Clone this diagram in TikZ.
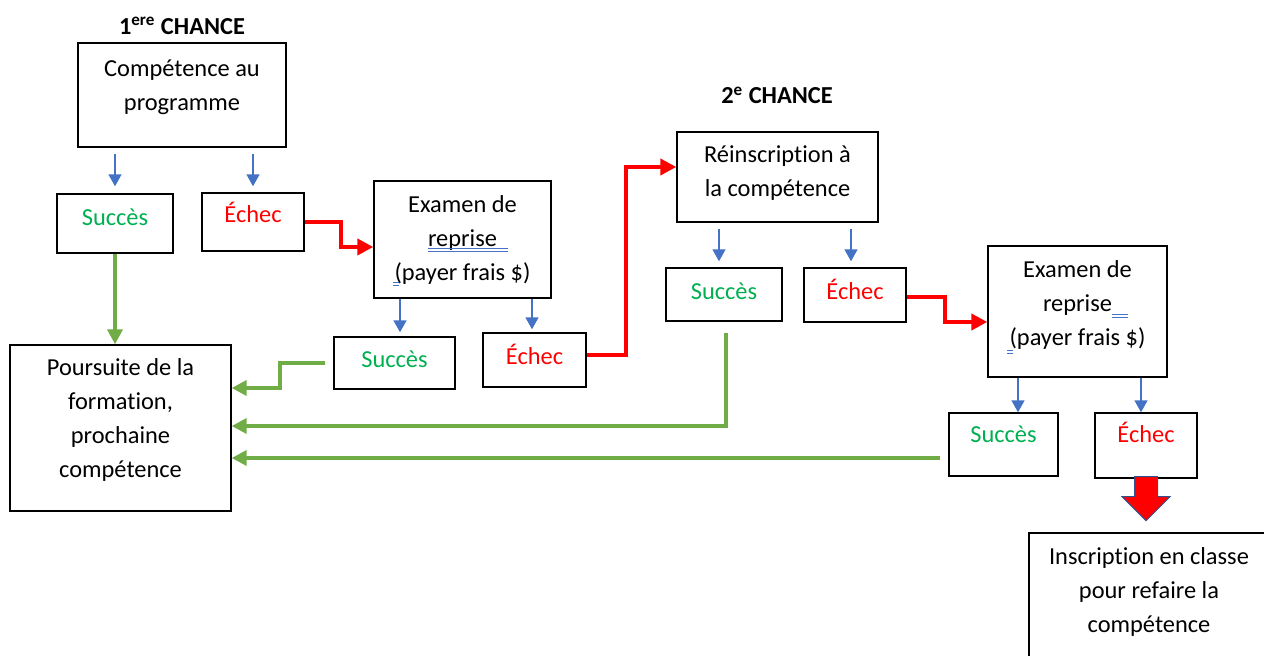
\documentclass[tikz,border=0pt]{standalone}
\usepackage{fontspec}
\setmainfont{Carlito}[Ligatures={NoCommon}]
\usetikzlibrary{arrows.meta,calc}
\definecolor{okgreen}{RGB}{0,176,80}
\definecolor{linkgreen}{RGB}{112,173,71}
\definecolor{arrblue}{RGB}{68,114,196}
\definecolor{outblue}{RGB}{47,82,143}
\newcommand{\bxt}[4]{\parbox[c][#2][t]{#1}{\centering\leavevmode\rule{0pt}{#3}#4\par}}
\begin{document}
\begin{tikzpicture}[x=0.5pt,y=-0.5pt,
  box/.style={draw=black, line width=0.7pt, inner sep=0pt, font=\fontsize{12.2pt}{17pt}\selectfont},
  ttl/.style={inner sep=0pt, anchor=base, font=\fontsize{12.2pt}{17pt}\selectfont\bfseries},
  bluearr/.style={draw=arrblue, line width=0.75pt, -{Triangle[length=6pt,width=6.5pt]}},
  redarr/.style={draw=red, line width=2pt, -{Triangle[length=8pt,width=8pt]}},
  greenarr/.style={draw=linkgreen, line width=2pt, -{Triangle[length=7.5pt,width=7.5pt]}},
  squig/.style={draw=arrblue, line width=0.5pt},
  okt/.style={text=okgreen},
  kot/.style={text=red}]
\useasboundingbox (0,0) rectangle (1264,656);
\clip (0,0) rectangle (1264,656);

% titles
\node[ttl] (t1) at (182,34.5) {1\textsuperscript{ere} CHANCE};
\node[ttl] (t2) at (777,104) {2\textsuperscript{e} CHANCE};

% first chance
\node[box] (A) at (182,95) {\bxt{104pt}{52pt}{17pt}{Compétence au\\programme}};
\node[box,okt] (S1) at (115,223.5) {\bxt{58pt}{29.5pt}{16pt}{Succès}};
\node[box,kot] (E1) at (253,222) {\bxt{51pt}{29pt}{15pt}{Échec}};
\node[box] (X1) at (462.5,239.5) {\bxt{88.5pt}{58.5pt}{16pt}{Examen de\\reprise\\(payer frais \$)}};
\node[box,okt] (S2) at (394.5,363) {\bxt{60.5pt}{26pt}{15.5pt}{Succès}};
\node[box,kot] (E2) at (534.5,360) {\bxt{51.5pt}{27pt}{16pt}{Échec}};
\node[box] (P) at (120.5,428) {\bxt{110.5pt}{83pt}{15.5pt}{Poursuite de la\\formation,\\prochaine\\compétence}};

% second chance
\node[box] (R) at (777.5,177) {\bxt{100.5pt}{45pt}{15.5pt}{Réinscription à\\la compétence}};
\node[box,okt] (S3) at (724,294.5) {\bxt{58pt}{26.5pt}{16pt}{Succès}};
\node[box,kot] (E3) at (855,295) {\bxt{51pt}{27pt}{16pt}{Échec}};
\node[box] (X2) at (1077.5,311.5) {\bxt{89.5pt}{65.5pt}{16pt}{Examen de\\reprise\\(payer frais \$)}};
\node[box,okt] (S4) at (1003.5,444.5) {\bxt{54.5pt}{31.5pt}{15pt}{Succès}};
\node[box,kot] (E4) at (1146,445.5) {\bxt{51pt}{32.5pt}{15pt}{Échec}};
\node[box] (I) at (1149,633) {\bxt{120pt}{100pt}{16pt}{Inscription en classe\\pour refaire la\\compétence}};

% Word proofing marks
\draw[squig] (428,249) -- (508,249) (428,252) -- (508,252);
\draw[squig] (393,283) -- (399,283) (393,285.5) -- (399,285.5);
\draw[squig] (1112,315) -- (1128,315) (1112,318) -- (1128,318);
\draw[squig] (1007,351) -- (1013,351) (1007,353.5) -- (1013,353.5);

% blue arrows
\draw[bluearr, shorten <=3pt, shorten >=3.5pt] (A.south -| S1.north) -- (S1.north);
\draw[bluearr, shorten <=3pt, shorten >=3pt] (A.south -| E1.north) -- (E1.north);
\coordinate (x1a) at ([xshift=-31.25pt]X1.south);
\coordinate (x1b) at ([xshift=34.75pt]X1.south);
\draw[bluearr, shorten >=2pt] (x1a) -- (x1a |- S2.north);
\draw[bluearr, shorten >=1.5pt] (x1b) -- (x1b |- E2.north);
\coordinate (ra) at ([xshift=-29.25pt]R.south);
\coordinate (rb) at ([xshift=36.75pt]R.south);
\draw[bluearr, shorten <=3pt, shorten >=3pt] (ra) -- (ra |- S3.north);
\draw[bluearr, shorten <=3pt, shorten >=3pt] (rb) -- (rb |- E3.north);
\coordinate (x2a) at ([xshift=-29.75pt]X2.south);
\coordinate (x2b) at ([xshift=31.75pt]X2.south);
\draw[bluearr] (x2a) -- (x2a |- S4.north);
\draw[bluearr] (x2b) -- (x2b |- E4.north);

% red connectors
\draw[redarr] (E1.east) -- ++(36,0) |- ([yshift=-3.75pt]X1.west);
\draw[redarr] ([yshift=2.5pt]E2.east) -- ++(39,0) |- ([yshift=5pt]R.west);
\draw[redarr] ([yshift=-1pt]E3.east) -- ++(38,0) |- ([yshift=-5.25pt]X2.west);

% green connectors
\draw[greenarr] (S1.south) -- (S1.south |- P.north);
\draw[greenarr, shorten <=4pt] (S2.west) -- ++(-53,0) |- ([yshift=20pt]P.east);
\draw[greenarr, shorten <=5.5pt] ([xshift=1pt]S3.south) |- ([yshift=1pt]P.east);
\coordinate (g4) at ([yshift=-6.75pt]S4.west);
\draw[greenarr, shorten <=4pt] (g4) -- (g4 -| P.east);

% block arrow
\draw[fill=red, draw=outblue, line width=0.5pt]
  ($(E4.south)+(-11.5,-2)$) -- ($(E4.south)+(11.5,-2)$) -- ($(E4.south)+(11.5,18)$)
  -- ($(E4.south)+(24,18)$) -- ($(E4.south)+(0,42)$) -- ($(E4.south)+(-24,18)$)
  -- ($(E4.south)+(-11.5,18)$) -- cycle;
\end{tikzpicture}
\end{document}
